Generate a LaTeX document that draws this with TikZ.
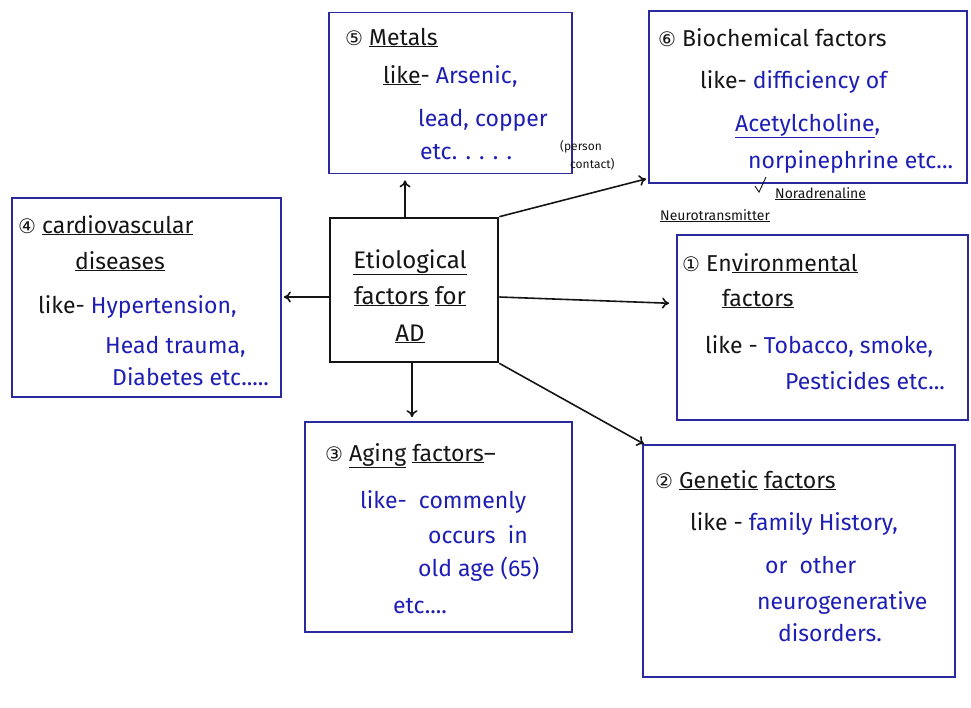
\documentclass[tikz,border=0pt]{standalone}
\usepackage{fontspec}
\setmainfont{Fira Sans}
\newfontfamily\symf{DejaVu Sans}
\usetikzlibrary{arrows.meta}
\definecolor{boxblue}{HTML}{2A2A9E}
\definecolor{inkblue}{HTML}{1E1EB4}
\definecolor{ink}{HTML}{151515}
\tikzset{
  fbox/.style={draw=boxblue,line width=1.8pt,minimum width=#1,inner sep=0pt},
  hd/.style={anchor=base west,inner sep=0pt,text=ink,font=\fontsize{23}{25}\selectfont},
  ex/.style={anchor=base west,inner sep=0pt,text=inkblue,font=\fontsize{23}{25}\selectfont},
  ctr/.style={anchor=base,inner sep=0pt,text=ink,font=\fontsize{24}{26}\selectfont},
  note/.style={anchor=base west,inner sep=0pt,text=ink,font=\fontsize{12}{13}\selectfont},
  bignote/.style={anchor=base west,inner sep=0pt,text=ink,font=\fontsize{14}{15}\selectfont},
  arr/.style={draw=ink,line width=1.6pt,-{To[length=7pt,width=11pt]}}
}
\newcommand{\cnum}[1]{{\symf\fontsize{20}{22}\selectfont #1}}
\begin{document}
\begin{tikzpicture}[x=1pt,y=-1pt]
\useasboundingbox (0,0) rectangle (971,707);

% boxes
\node[fbox=243pt,minimum height=161pt] (metals) at (450.5,93) {};
\node[fbox=318pt,minimum height=172pt] (bio) at (808,97) {};
\node[fbox=269pt,minimum height=199pt] (cardio) at (146.5,297.5) {};
\node[fbox=291pt,minimum height=185pt] (env) at (822.5,327.5) {};
\node[fbox=267pt,minimum height=210pt] (aging) at (438.5,527) {};
\node[fbox=312pt,minimum height=232pt] (gen) at (799,561) {};
\node[draw=ink,line width=2.6pt,minimum width=168pt,minimum height=144pt,inner sep=0pt] (c) at (414,290) {};

% central text
\node[ctr] (c1) at (410,268) {\underline{Etiological}};
\node[ctr] (c2) at (410,304) {\underline{factors} \underline{for}};
\node[ctr] (c3) at (410,341) {\underline{AD}};

% metals
\node[hd] (m1) at (345,45) {\cnum{⑤} \underline{Metals}};
\node[hd] (m2) at (383,83) {\underline{like}- \textcolor{inkblue}{Arsenic,}};
\node[ex] (m3) at (418,126) {lead, copper};
\node[ex] (m4) at (420,159) {etc. . . . .};
\node[note] (m5) at (560,150) {(person};
\node[note] (m6) at (570,168) {contact)};

% biochemical
\node[hd] (b1) at (658,46) {\cnum{⑥} Biochemical factors};
\node[hd] (b2) at (700,88) {like- \textcolor{inkblue}{difficiency of}};
\node[ex] (b3) at (735,131) {\underline{Acetylcholine},};
\node[ex] (b4) at (748,168) {norpinephrine etc...};
\node[bignote] (b5) at (775,198) {\underline{Noradrenaline}};
\node[bignote] (b6) at (660,220) {\underline{Neurotransmitter}};
\draw[ink,line width=0.9pt] (b4.south west) ++(18,4) -- ++(-7,15) -- ++(-4,-6);

% cardiovascular
\node[hd] (d1) at (18,233) {\cnum{④} \underline{cardiovascular}};
\node[hd] (d2) at (75,269) {\underline{diseases}};
\node[hd] (d3) at (38,313) {like- \textcolor{inkblue}{Hypertension,}};
\node[ex] (d4) at (105,353) {Head trauma,};
\node[ex] (d5) at (112,385) {Diabetes etc.....};

% environmental
\node[hd] (e1) at (682,271) {\cnum{①} En\underline{vironmental}};
\node[hd] (e2) at (722,306) {\underline{factors}};
\node[hd] (e3) at (705,353) {like - \textcolor{inkblue}{Tobacco, smoke,}};
\node[ex] (e4) at (785,389) {Pesticides etc...};

% aging
\node[hd] (a1) at (325,461) {\cnum{③} \underline{Aging} \underline{factors}–};
\node[ex] (a2) at (360,508) {like- \ commenly};
\node[ex] (a3) at (428,543) {occurs \ in};
\node[ex] (a4) at (418,576) {old age (65)};
\node[ex] (a5) at (393,613) {etc....};

% genetic
\node[hd] (g1) at (655,488) {\cnum{②} \underline{Genetic} \underline{factors}};
\node[hd] (g2) at (690,530) {like - \textcolor{inkblue}{family History,}};
\node[ex] (g3) at (765,573) {or \ other};
\node[ex] (g4) at (757,609) {neurogenerative};
\node[ex] (g5) at (778,641) {disorders.};

% connectors
\draw[arr,shorten >=6pt] ([xshift=-9pt]c.north) -- ([xshift=-9pt]c.north |- metals.south);
\draw[arr] (c.north east) -- ([xshift=-2pt,yshift=5pt]bio.south west);
\draw[arr] ([yshift=-7pt]c.west) -- ([yshift=-7pt,xshift=2pt]c.west -| cardio.east);
\draw[arr,shorten >=7pt] ([yshift=-7pt]c.east) -- ([yshift=24pt]env.west);
\draw[arr,shorten >=4pt] ([xshift=-2pt]c.south) -- ([xshift=-2pt]c.south |- aging.north);
\draw[arr] (c.south east) -- ([xshift=2pt]gen.north west);
\end{tikzpicture}
\end{document}
